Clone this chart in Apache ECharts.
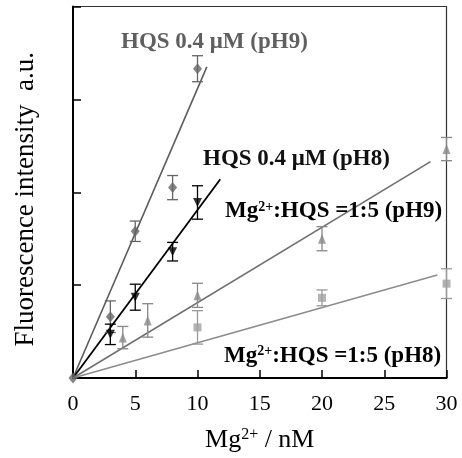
<!DOCTYPE html>
<html>
<head>
<meta charset="utf-8">
<script src="https://cdn.jsdelivr.net/npm/echarts@6/dist/echarts.min.js"></script>
<style>html,body{margin:0;padding:0;background:#fff;}#c{width:462px;height:458px;}</style>
</head>
<body>
<div id="c"></div>
<script>
// ---- data ----
var xTicks = [0, 5, 10, 15, 20, 25, 30];

var hqs9X = [0, 3, 5, 8, 10];
var hqs9Y = [0, 0.66, 1.58, 2.05, 3.33];
var hqs9E = [0, 0.17, 0.11, 0.13, 0.14];
var hqs9Fit = [[0, 0], [10.75, 3.35]];

var hqs8X = [3, 5, 8, 10];
var hqs8Y = [0.47, 0.87, 1.36, 1.89];
var hqs8E = [0.11, 0.14, 0.10, 0.18];
var hqs8Fit = [[0, 0], [11.83, 2.14]];

var mg9X = [4, 6, 10, 20, 30];
var mg9Y = [0.435, 0.62, 0.89, 1.5, 2.465];
var mg9E = [0.12, 0.18, 0.13, 0.13, 0.125];
var mg9Fit = [[0, 0], [28.72, 2.33]];

var mg8X = [10, 20, 30];
var mg8Y = [0.545, 0.863, 1.016];
var mg8E = [0.18, 0.085, 0.16];
var mg8Fit = [[0, 0], [29.26, 1.11]];

var FONT = 'Liberation Serif';

function pts(xs, ys) { return xs.map(function (x, i) { return [x, ys[i]]; }); }
function errs(xs, ys, es) { return xs.map(function (x, i) { return [x, ys[i], es[i]]; }); }

function errSeries(data, color) {
  return {
    type: 'custom', z: 3, silent: true,
    data: data,
    renderItem: function (params, api) {
      var x = api.value(0), y = api.value(1), e = api.value(2);
      if (!e) return null;
      var top = api.coord([x, y + e]);
      var bot = api.coord([x, y - e]);
      var hw = 5.5;
      var st = { stroke: color, lineWidth: 1.3 };
      return {
        type: 'group',
        children: [
          { type: 'line', shape: { x1: top[0], y1: top[1], x2: bot[0], y2: bot[1] }, style: st },
          { type: 'line', shape: { x1: top[0] - hw, y1: top[1], x2: top[0] + hw, y2: top[1] }, style: st },
          { type: 'line', shape: { x1: bot[0] - hw, y1: bot[1], x2: bot[0] + hw, y2: bot[1] }, style: st }
        ]
      };
    }
  };
}

function fitSeries(data, color, w) {
  return { type: 'line', data: data, symbol: 'none', z: 2, silent: true,
    lineStyle: { color: color, width: w } };
}

function scatterSeries(data, symbol, size, color, rotate) {
  return { type: 'scatter', data: data, symbol: symbol, symbolSize: size, symbolRotate: rotate || 0,
    z: 4, silent: true, itemStyle: { color: color } };
}

var chart = echarts.init(document.getElementById('c'));

var supRich = function (color, size, supSize) {
  return {
    n: { fontFamily: FONT, fontSize: size, fontWeight: 'bold', color: color },
    s: { fontFamily: FONT, fontSize: supSize, fontWeight: 'bold', color: color, verticalAlign: 'top' }
  };
};

chart.setOption({
  animation: false,
  backgroundColor: '#fff',
  grid: { left: 73, right: 15.5, top: 6.5, bottom: 78, show: true, borderColor: '#333', borderWidth: 1.2 },
  xAxis: {
    type: 'value', min: 0, max: 30, interval: 5,
    axisLine: { lineStyle: { color: '#000', width: 2 } },
    axisTick: { inside: true, length: 8, lineStyle: { color: '#000', width: 1.5 } },
    axisLabel: { fontFamily: FONT, fontSize: 22, color: '#000', margin: 15,
      formatter: function (v) { return xTicks.indexOf(v) >= 0 ? String(v) : ''; } },
    splitLine: { show: false },
    name: '{n|Mg}{s|2+}{n| / nM}',
    nameLocation: 'middle', nameGap: 49,
    nameTextStyle: {
      rich: {
        n: { fontFamily: FONT, fontSize: 26, color: '#000' },
        s: { fontFamily: FONT, fontSize: 16, color: '#000', verticalAlign: 'top' }
      }
    }
  },
  yAxis: {
    type: 'value', min: 0, max: 4, interval: 1,
    axisLine: { lineStyle: { color: '#000', width: 2 } },
    axisTick: { inside: true, length: 8, lineStyle: { color: '#000', width: 1.5 } },
    axisLabel: { show: false },
    splitLine: { show: false },
    name: 'Fluorescence intensity  a.u.',
    nameLocation: 'middle', nameGap: 34, nameRotate: 90,
    nameTextStyle: { fontFamily: FONT, fontSize: 27, color: '#000', padding: [0, 14, 0, 0] }
  },
  series: [
    fitSeries(hqs9Fit, '#5c5c5c', 1.6),
    fitSeries(hqs8Fit, '#000', 1.8),
    fitSeries(mg9Fit, '#707070', 1.6),
    fitSeries(mg8Fit, '#8c8c8c', 1.6),
    errSeries(errs(hqs9X, hqs9Y, hqs9E), '#666'),
    errSeries(errs(hqs8X, hqs8Y, hqs8E), '#000'),
    errSeries(errs(mg9X, mg9Y, mg9E), '#888'),
    errSeries(errs(mg8X, mg8Y, mg8E), '#999'),
    scatterSeries(pts(hqs9X, hqs9Y), 'diamond', [9, 11], '#666'),
    scatterSeries(pts(hqs8X, hqs8Y), 'triangle', [9, 9], '#000', 180),
    scatterSeries(pts(mg9X, mg9Y), 'triangle', [8, 10], '#8a8a8a'),
    scatterSeries(pts(mg8X, mg8Y), 'rect', [8, 8], '#a0a0a0')
  ],
  graphic: [
    { type: 'text', x: 121, y: 42, z: 10, style: { text: 'HQS 0.4 \u03bcM (pH9)', font: 'bold 23px "Liberation Serif"', fill: '#5f5f5f', verticalAlign: 'middle' } },
    { type: 'text', x: 203, y: 159, z: 10, style: { text: 'HQS 0.4 \u03bcM (pH8)', font: 'bold 23px "Liberation Serif"', fill: '#111', verticalAlign: 'middle' } },
    { type: 'text', x: 225, y: 211.5, z: 10, style: { text: '{n|Mg}{s|2+}{n|:HQS =1:5 (pH9)}', verticalAlign: 'middle', rich: supRich('#8a8a8a', 23, 14) } },
    { type: 'text', x: 224, y: 356, z: 10, style: { text: '{n|Mg}{s|2+}{n|:HQS =1:5 (pH8)}', verticalAlign: 'middle', rich: supRich('#9d9d9d', 23, 14) } }
  ]
});
</script>
</body>
</html>
